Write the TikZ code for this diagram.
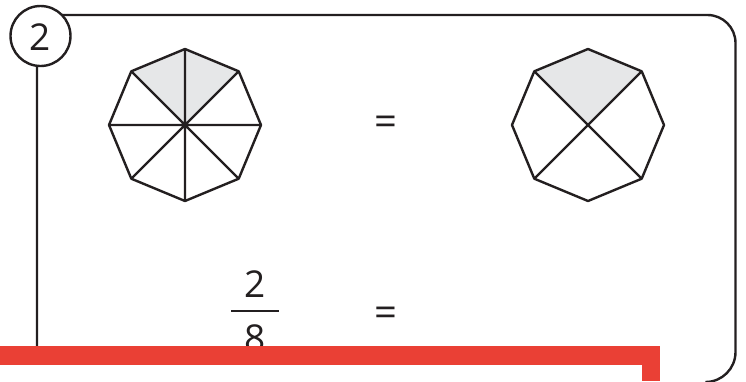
\documentclass[tikz,border=0pt]{standalone}
\usepackage{fontspec}
\setmainfont{Open Sans}
\definecolor{ink}{HTML}{231F20}
\definecolor{shadegray}{HTML}{E6E7E8}
\definecolor{barred}{HTML}{EA4035}
\begin{document}
\begin{tikzpicture}[x=1pt,y=-1pt,line join=round,
  edge/.style={line width=2.4pt,draw=ink},
  part/.style={fill=shadegray},
  numtext/.style={font=\fontsize{37}{37}\selectfont,text=ink,inner sep=0pt},
  eqtext/.style={font=\fontsize{40}{40}\selectfont,text=ink,inner sep=0pt}]
\useasboundingbox (0,0) rectangle (746,381);
\clip (0,0) rectangle (746,381);
% frame
\coordinate (fbl) at (37,360);
\coordinate (ftl) at (37,15);
\coordinate (ftr) at (707.5,15);
\draw[edge] (fbl) -- (ftl) -- (ftr) arc[start angle=90,end angle=0,radius=28pt]
  -- (735.5,352) arc[start angle=0,end angle=-90,radius=30pt];
% number badge
\node[circle,draw=ink,line width=2.4pt,fill=white,minimum size=60pt,inner sep=0pt] (badge) at (40.5,36) {};
\node[numtext] (badgenum) at (40.5,37) {2};
% left octagon
\coordinate (L) at (185,125);
\coordinate (Lt) at (185,49);
\coordinate (Ltr) at (238.7,71.3);
\coordinate (Lr) at (261,125);
\coordinate (Lbr) at (238.7,178.7);
\coordinate (Lb) at (185,201);
\coordinate (Lbl) at (131.3,178.7);
\coordinate (Ll) at (109,125);
\coordinate (Ltl) at (131.3,71.3);
\fill[part] (Ltl) -- (Lt) -- (Ltr) -- (L) -- cycle;
\draw[edge] (Lt) -- (Ltr) -- (Lr) -- (Lbr) -- (Lb) -- (Lbl) -- (Ll) -- (Ltl) -- cycle;
\draw[edge] (Lt) -- (Lb) (Ll) -- (Lr) (Ltl) -- (Lbr) (Ltr) -- (Lbl);
% right octagon
\coordinate (R) at (588,125);
\coordinate (Rt) at (588,49);
\coordinate (Rtr) at (641.7,71.3);
\coordinate (Rr) at (664,125);
\coordinate (Rbr) at (641.7,178.7);
\coordinate (Rb) at (588,201);
\coordinate (Rbl) at (534.3,178.7);
\coordinate (Rl) at (512,125);
\coordinate (Rtl) at (534.3,71.3);
\fill[part] (Rtl) -- (Rt) -- (Rtr) -- (R) -- cycle;
\draw[edge] (Rt) -- (Rtr) -- (Rr) -- (Rbr) -- (Rb) -- (Rbl) -- (Rl) -- (Rtl) -- cycle;
\draw[edge] (Rtl) -- (Rbr) (Rtr) -- (Rbl);
% equals signs
\node[eqtext] (eq1) at (386,126) {=};
\node[eqtext] (eq2) at (386,316.5) {=};
% fraction
\node[numtext] (num) at (255,284.5) {2};
\coordinate (barl) at (231,310.7);
\coordinate (barr) at (279,310.7);
\draw[ink,line width=2.3pt] (barl) -- (barr);
\node[numtext] (den) at (255,338.5) {8};
% red banner
\fill[barred] (0,346) rectangle (660,365);
\fill[barred] (642,346) rectangle (660,381);
\fill[white] (0,365) rectangle (642,381);
\end{tikzpicture}
\end{document}
